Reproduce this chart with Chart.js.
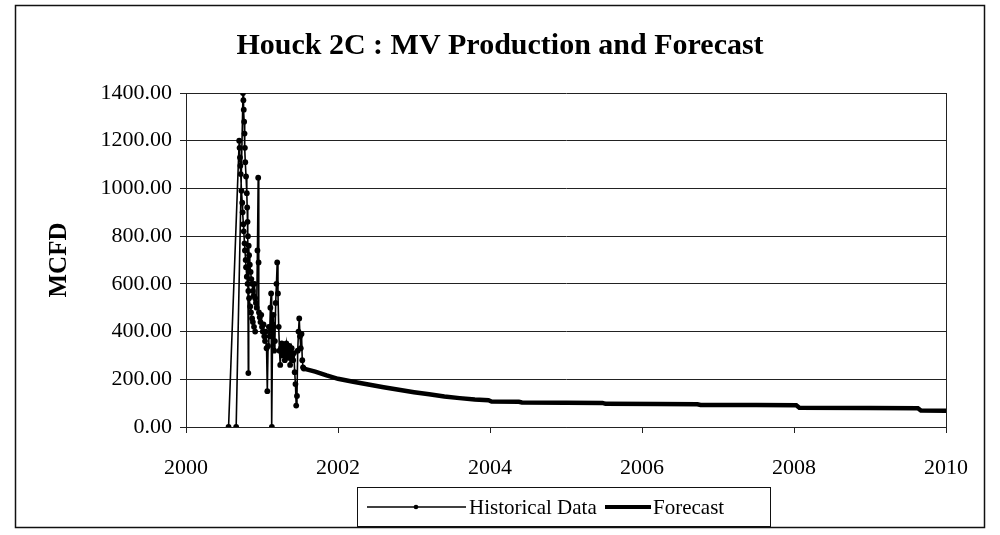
<!DOCTYPE html>
<html>
<head>
<meta charset="utf-8">
<script src="https://cdn.jsdelivr.net/npm/chart.js@4.4.1/dist/chart.umd.min.js"></script>
<style>
html,body{margin:0;padding:0;background:#fff;}
#wrap{width:1000px;height:535px;}
</style>
</head>
<body>
<div id="wrap"><canvas id="c" width="1000" height="535"></canvas></div>
<script>
const chartTitle = "Houck 2C : MV Production and Forecast";
const yAxisTitle = "MCFD";
const seriesNames = ["Historical Data", "Forecast"];
const xTickYears = [2000, 2002, 2004, 2006, 2008, 2010];
const yTickValues = [0, 200, 400, 600, 800, 1000, 1200, 1400];

// Historical data (two runs, separated by a gap marked with null)
const histYears = [
  2000.56, 2000.70, 2000.705, 2000.71, 2000.715, 2000.72, 2000.73, 2000.74, 2000.745, 2000.755, 2000.76, 2000.77, 2000.775, 2000.785,
  2000.79, 2000.80, 2000.81, 2000.82, 2000.83, 2000.845, 2000.855, 2000.87, 2000.88, 2000.895, 2000.91,
  2000.91,
  2000.66, 2000.75, 2000.755, 2000.76, 2000.765, 2000.77, 2000.775, 2000.78, 2000.79, 2000.80, 2000.805, 2000.81, 2000.815, 2000.82,
  2000.825, 2000.83, 2000.84, 2000.85, 2000.86, 2000.87, 2000.88, 2000.89, 2000.90, 2000.91, 2000.92, 2000.93, 2000.94, 2000.95,
  2000.955, 2000.96, 2000.97, 2000.98, 2000.99, 2001.00, 2001.01, 2001.02, 2001.03, 2001.04, 2001.05, 2001.06, 2001.07, 2001.08,
  2001.09, 2001.10, 2001.11, 2001.12, 2001.125, 2001.13, 2001.14, 2001.15, 2001.16, 2001.17, 2001.18, 2001.19, 2001.20, 2001.21,
  2001.22, 2001.23, 2001.24, 2001.25, 2001.26, 2001.27, 2001.28, 2001.29, 2001.30, 2001.31, 2001.32, 2001.33, 2001.34, 2001.35,
  2001.36, 2001.37, 2001.38, 2001.39, 2001.40, 2001.41, 2001.42, 2001.43, 2001.44, 2001.45, 2001.46, 2001.47, 2001.48, 2001.49,
  2001.50, 2001.51, 2001.52, 2001.53, 2001.54, 2001.55
];
const histValues = [
  0, 1200, 1170, 1130, 1095, 1060, 990, 940, 900, 850, 820, 770, 740, 700,
  670, 630, 600, 570, 540, 505, 480, 455, 440, 420, 400,
  null,
  0, 1400, 1370, 1330, 1280, 1230, 1170, 1110, 1050, 980, 920, 860, 800, 226,
  760, 720, 680, 650, 620, 600, 570, 550, 600, 540, 520, 500, 740, 1045,
  690, 480, 460, 440, 470, 420, 400, 430, 380, 360, 400, 330, 150, 340,
  420, 380, 500, 560, 420, 0, 430, 470, 320, 360, 520, 600, 690, 560,
  420, 320, 260, 330, 350, 300, 340, 310, 280, 330, 350, 300, 320, 290,
  340, 260, 310, 330, 300, 280, 310, 230, 180, 90, 130, 320, 400, 455,
  380, 330, 390, 280, 250, 245
];

// Forecast
const forecastYears = [
  2001.55, 2001.7, 2001.85, 2002.0, 2002.2, 2002.4, 2002.6, 2002.8, 2003.0, 2003.2, 2003.4, 2003.6, 2003.8,
  2003.98, 2004.02, 2004.38, 2004.42, 2005.0, 2005.48, 2005.52, 2006.2, 2006.73, 2006.77, 2007.5,
  2008.03, 2008.07, 2009.0, 2009.63, 2009.67, 2010.0
];
const forecastValues = [
  245, 232, 216, 202, 190, 178, 167, 156, 146, 137, 128, 121, 115,
  112, 107, 106, 103, 102, 101, 97, 96, 95, 92, 92,
  91, 81, 80, 79, 69, 68
];

const FONT = "'Liberation Serif', 'Times New Roman', Times, serif";

const framePlugin = {
  id: 'frame',
  beforeDraw(chart) {
    const ctx = chart.ctx;
    ctx.save();
    ctx.fillStyle = '#fff';
    ctx.fillRect(0, 0, chart.width, chart.height);
    ctx.restore();
  },
  afterDraw(chart) {
    const ctx = chart.ctx;
    const a = chart.chartArea;
    ctx.save();
    // title
    ctx.fillStyle = '#000';
    ctx.font = "bold 30px " + FONT;
    ctx.textAlign = 'center';
    ctx.textBaseline = 'middle';
    ctx.fillText(chartTitle, 500, 46);
    // outer frame
    ctx.strokeStyle = '#111';
    ctx.lineWidth = 1.5;
    ctx.strokeRect(15.5, 5.5, 969, 522);
    // plot area right edge
    ctx.lineWidth = 1;
    ctx.strokeStyle = '#222';
    ctx.beginPath();
    ctx.moveTo(Math.round(a.right) + 0.5, a.top);
    ctx.lineTo(Math.round(a.right) + 0.5, a.bottom);
    ctx.stroke();
    // legend
    const bx = 357.5, by = 487.5, bw = 413, bh = 39;
    ctx.strokeStyle = '#111';
    ctx.lineWidth = 1;
    ctx.strokeRect(bx, by, bw, bh);
    const cy = by + bh / 2;
    ctx.strokeStyle = '#000';
    ctx.lineWidth = 1.3;
    ctx.beginPath(); ctx.moveTo(367, cy); ctx.lineTo(466, cy); ctx.stroke();
    ctx.fillStyle = '#000';
    ctx.beginPath(); ctx.arc(416, cy, 2.3, 0, Math.PI * 2); ctx.fill();
    ctx.font = "21px " + FONT;
    ctx.textBaseline = 'middle';
    ctx.textAlign = 'left';
    ctx.fillText(seriesNames[0], 469, cy + 1);
    ctx.lineWidth = 4;
    ctx.beginPath(); ctx.moveTo(605, cy); ctx.lineTo(651, cy); ctx.stroke();
    ctx.fillText(seriesNames[1], 653, cy + 1);
    ctx.restore();
  }
};

const histData = histYears.map((x, i) => ({ x: x, y: histValues[i] }));
const fcData = forecastYears.map((x, i) => ({ x: x, y: forecastValues[i] }));

new Chart(document.getElementById('c'), {
  type: 'scatter',
  data: {
    datasets: [
      {
        label: seriesNames[1],
        data: fcData,
        showLine: true,
        borderColor: '#000',
        backgroundColor: '#000',
        borderWidth: 4.5,
        pointRadius: 0,
        tension: 0
      },
      {
        label: seriesNames[0],
        data: histData,
        showLine: true,
        spanGaps: false,
        borderColor: '#000',
        backgroundColor: '#000',
        borderWidth: 1.6,
        pointRadius: 2.9,
        pointBorderWidth: 0,
        pointBackgroundColor: '#000',
        tension: 0
      }
    ]
  },
  options: {
    responsive: false,
    animation: false,
    devicePixelRatio: 1,
    layout: { padding: { left: 0, right: 54, top: 93, bottom: 50 } },
    plugins: {
      legend: { display: false },
      tooltip: { enabled: false },
      title: { display: false }
    },
    scales: {
      x: {
        type: 'linear',
        min: 2000,
        max: 2010,
        afterBuildTicks(scale) { scale.ticks = xTickYears.map(v => ({ value: v })); },
        afterFit(scale) { scale.height = 58; },
        ticks: {
          color: '#000',
          font: { family: FONT, size: 22 },
          padding: 22,
          maxRotation: 0,
          autoSkip: false,
          callback: v => String(v)
        },
        grid: { drawOnChartArea: false, drawTicks: true, tickLength: 6, color: '#222' },
        border: { display: true, color: '#222', width: 1 }
      },
      y: {
        min: 0,
        max: 1400,
        afterBuildTicks(scale) { scale.ticks = yTickValues.map(v => ({ value: v })); },
        afterFit(scale) { scale.width = 186; },
        ticks: {
          color: '#000',
          font: { family: FONT, size: 22 },
          padding: 8,
          autoSkip: false,
          callback: v => Number(v).toFixed(2)
        },
        grid: { color: '#222', lineWidth: 1, tickLength: 6 },
        border: { display: true, color: '#222', width: 1 },
        title: {
          display: true,
          text: yAxisTitle,
          color: '#000',
          font: { family: FONT, size: 25, weight: 'bold' },
          padding: { top: 45, bottom: 0 }
        }
      }
    }
  },
  plugins: [framePlugin]
});
</script>
</body>
</html>
